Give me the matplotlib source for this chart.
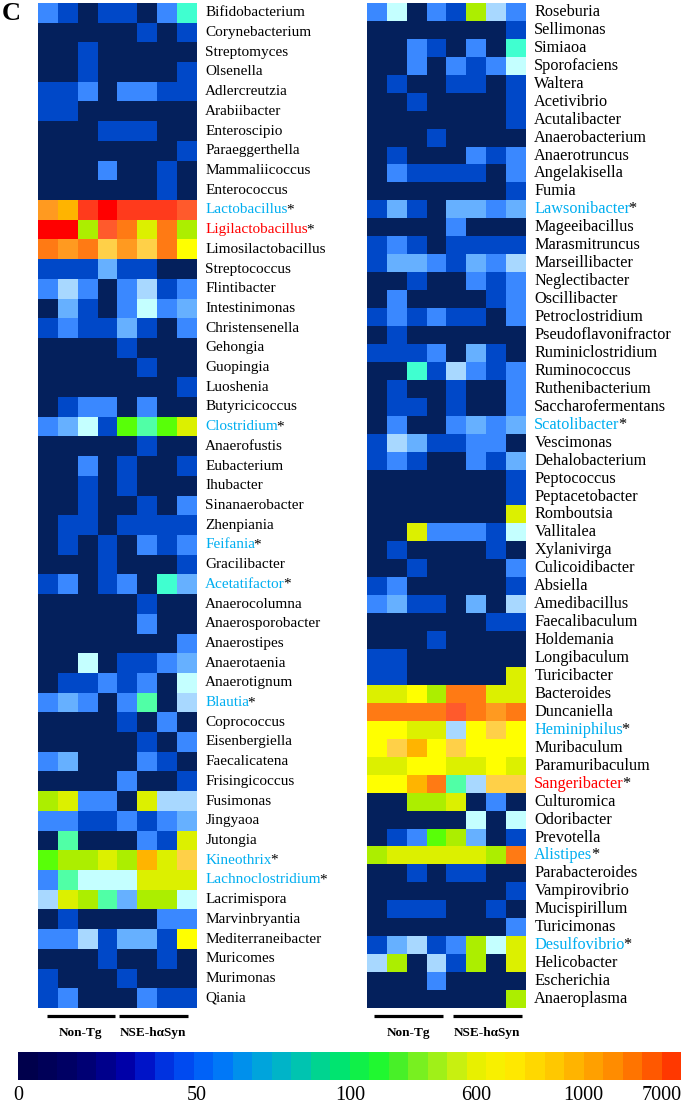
import numpy as np
import matplotlib
matplotlib.use('Agg')
import matplotlib.pyplot as plt
from matplotlib.colors import ListedColormap, BoundaryNorm
from matplotlib.cm import ScalarMappable

plt.rcParams['font.family'] = ['Liberation Serif', 'DejaVu Serif']

# ---------------- data ----------------
left_genera = ['Bifidobacterium', 'Corynebacterium', 'Streptomyces', 'Olsenella', 'Adlercreutzia',
               'Arabiibacter', 'Enteroscipio', 'Paraeggerthella', 'Mammaliicoccus', 'Enterococcus',
               'Lactobacillus', 'Ligilactobacillus', 'Limosilactobacillus', 'Streptococcus', 'Flintibacter',
               'Intestinimonas', 'Christensenella', 'Gehongia', 'Guopingia', 'Luoshenia',
               'Butyricicoccus', 'Clostridium', 'Anaerofustis', 'Eubacterium', 'Ihubacter',
               'Sinanaerobacter', 'Zhenpiania', 'Feifania', 'Gracilibacter', 'Acetatifactor',
               'Anaerocolumna', 'Anaerosporobacter', 'Anaerostipes', 'Anaerotaenia', 'Anaerotignum',
               'Blautia', 'Coprococcus', 'Eisenbergiella', 'Faecalicatena', 'Frisingicoccus',
               'Fusimonas', 'Jingyaoa', 'Jutongia', 'Kineothrix', 'Lachnoclostridium',
               'Lacrimispora', 'Marvinbryantia', 'Mediterraneibacter', 'Muricomes', 'Murimonas',
               'Qiania']

left_values = [
    [25, 10, 0, 10, 10, 0, 25, 85],
    [0, 0, 0, 0, 0, 10, 0, 10],
    [0, 0, 10, 0, 0, 0, 0, 0],
    [0, 0, 10, 0, 0, 0, 0, 10],
    [10, 10, 25, 0, 25, 25, 10, 10],
    [10, 10, 0, 0, 0, 0, 0, 0],
    [0, 0, 0, 10, 10, 10, 0, 0],
    [0, 0, 0, 0, 0, 0, 0, 10],
    [0, 0, 0, 25, 0, 0, 10, 0],
    [0, 0, 0, 0, 0, 0, 10, 0],
    [1000, 850, 4000, 7000, 4000, 4000, 4000, 2500],
    [7000, 7000, 250, 2500, 1500, 400, 1500, 250],
    [1500, 1000, 1500, 700, 1000, 700, 1500, 550],
    [10, 10, 10, 40, 10, 10, 0, 0],
    [25, 55, 25, 0, 25, 55, 10, 25],
    [0, 40, 10, 0, 25, 70, 25, 40],
    [10, 25, 10, 10, 40, 10, 0, 25],
    [0, 0, 0, 0, 10, 0, 0, 0],
    [0, 0, 0, 0, 0, 10, 0, 0],
    [0, 0, 0, 0, 0, 0, 0, 10],
    [0, 10, 25, 25, 0, 25, 0, 0],
    [25, 40, 70, 10, 150, 100, 150, 400],
    [0, 0, 0, 0, 0, 10, 0, 0],
    [0, 0, 25, 0, 10, 0, 0, 10],
    [0, 0, 10, 0, 10, 0, 0, 0],
    [0, 0, 10, 0, 0, 10, 0, 25],
    [0, 10, 10, 0, 10, 10, 10, 10],
    [0, 10, 0, 10, 0, 25, 10, 25],
    [0, 0, 0, 10, 0, 0, 0, 10],
    [10, 25, 0, 10, 25, 0, 85, 40],
    [0, 0, 0, 0, 0, 10, 0, 0],
    [0, 0, 0, 0, 0, 25, 0, 0],
    [0, 0, 0, 0, 0, 0, 0, 25],
    [0, 0, 70, 0, 10, 10, 25, 40],
    [0, 10, 10, 25, 10, 25, 0, 70],
    [25, 40, 25, 0, 25, 100, 0, 55],
    [0, 0, 0, 0, 10, 0, 25, 0],
    [0, 0, 0, 0, 0, 10, 0, 25],
    [25, 40, 0, 0, 0, 25, 10, 0],
    [0, 0, 0, 0, 25, 0, 0, 10],
    [250, 400, 25, 25, 0, 400, 55, 55],
    [25, 25, 10, 10, 25, 10, 25, 40],
    [0, 100, 0, 0, 0, 25, 10, 400],
    [150, 250, 250, 400, 250, 850, 400, 700],
    [25, 100, 70, 70, 70, 400, 400, 400],
    [55, 400, 250, 100, 40, 250, 250, 70],
    [0, 10, 0, 0, 0, 0, 25, 25],
    [25, 25, 55, 10, 40, 40, 10, 550],
    [0, 0, 0, 10, 0, 0, 10, 0],
    [10, 0, 0, 0, 10, 0, 0, 0],
    [10, 25, 0, 0, 0, 25, 10, 10],
]

right_genera = ['Roseburia', 'Sellimonas', 'Simiaoa', 'Sporofaciens', 'Waltera', 'Acetivibrio',
                'Acutalibacter', 'Anaerobacterium', 'Anaerotruncus', 'Angelakisella', 'Fumia',
                'Lawsonibacter', 'Mageeibacillus', 'Marasmitruncus', 'Marseillibacter', 'Neglectibacter',
                'Oscillibacter', 'Petroclostridium', 'Pseudoflavonifractor', 'Ruminiclostridium',
                'Ruminococcus', 'Ruthenibacterium', 'Saccharofermentans', 'Scatolibacter', 'Vescimonas',
                'Dehalobacterium', 'Peptococcus', 'Peptacetobacter', 'Romboutsia', 'Vallitalea',
                'Xylanivirga', 'Culicoidibacter', 'Absiella', 'Amedibacillus', 'Faecalibaculum',
                'Holdemania', 'Longibaculum', 'Turicibacter', 'Bacteroides', 'Duncaniella',
                'Heminiphilus', 'Muribaculum', 'Paramuribaculum', 'Sangeribacter', 'Culturomica',
                'Odoribacter', 'Prevotella', 'Alistipes', 'Parabacteroides', 'Vampirovibrio',
                'Mucispirillum', 'Turicimonas', 'Desulfovibrio', 'Helicobacter', 'Escherichia',
                'Anaeroplasma']

right_values = [
    [25, 70, 0, 25, 10, 250, 55, 25],
    [0, 0, 0, 0, 0, 0, 0, 10],
    [0, 0, 25, 10, 0, 25, 0, 85],
    [0, 0, 25, 0, 25, 10, 25, 70],
    [0, 10, 0, 0, 10, 10, 0, 10],
    [0, 0, 10, 0, 0, 0, 0, 10],
    [0, 0, 0, 0, 0, 0, 0, 10],
    [0, 0, 0, 10, 0, 0, 0, 0],
    [0, 10, 0, 0, 0, 25, 10, 25],
    [0, 25, 10, 10, 10, 10, 0, 25],
    [0, 0, 0, 0, 0, 0, 0, 10],
    [10, 40, 10, 0, 40, 40, 25, 40],
    [0, 0, 0, 0, 25, 0, 0, 0],
    [10, 25, 10, 0, 10, 10, 10, 10],
    [10, 40, 40, 25, 10, 40, 25, 55],
    [0, 0, 10, 0, 0, 25, 10, 25],
    [0, 25, 0, 0, 0, 0, 10, 25],
    [10, 25, 10, 25, 10, 10, 0, 25],
    [0, 10, 0, 0, 0, 0, 0, 0],
    [10, 10, 10, 25, 0, 40, 10, 0],
    [0, 0, 85, 10, 55, 25, 10, 25],
    [0, 10, 0, 0, 10, 0, 0, 25],
    [0, 10, 10, 0, 10, 0, 0, 25],
    [0, 25, 0, 0, 25, 40, 25, 40],
    [10, 55, 40, 10, 10, 25, 25, 0],
    [10, 25, 10, 0, 0, 25, 10, 40],
    [0, 0, 0, 0, 0, 0, 0, 10],
    [0, 0, 0, 0, 0, 0, 0, 10],
    [0, 0, 0, 0, 0, 0, 0, 400],
    [0, 0, 400, 25, 25, 25, 10, 70],
    [0, 10, 0, 0, 0, 0, 10, 0],
    [0, 0, 10, 0, 0, 0, 0, 25],
    [10, 25, 0, 0, 0, 0, 0, 10],
    [25, 40, 10, 10, 0, 40, 0, 55],
    [0, 0, 0, 0, 0, 0, 10, 10],
    [0, 0, 0, 10, 0, 0, 0, 0],
    [10, 10, 0, 0, 0, 0, 0, 0],
    [10, 10, 0, 0, 0, 0, 0, 400],
    [400, 400, 550, 250, 1500, 1500, 400, 400],
    [1500, 1500, 1500, 1500, 2500, 1500, 1000, 1500],
    [550, 550, 400, 400, 55, 550, 700, 550],
    [550, 700, 850, 550, 700, 550, 550, 550],
    [400, 400, 550, 550, 400, 400, 550, 400],
    [550, 550, 850, 1500, 100, 55, 700, 700],
    [0, 0, 250, 250, 400, 0, 25, 0],
    [0, 0, 0, 0, 0, 70, 0, 70],
    [0, 10, 25, 150, 250, 40, 0, 10],
    [250, 400, 400, 400, 400, 400, 250, 1500],
    [0, 0, 10, 0, 10, 10, 0, 0],
    [0, 0, 0, 0, 0, 0, 0, 10],
    [0, 10, 10, 10, 0, 0, 10, 0],
    [0, 0, 0, 0, 0, 0, 0, 25],
    [10, 40, 55, 10, 25, 250, 70, 400],
    [55, 250, 0, 55, 10, 250, 0, 400],
    [0, 0, 0, 25, 0, 0, 0, 0],
    [0, 0, 0, 0, 0, 0, 0, 250],
]

group_names = ['Non-Tg', 'NSE-hαSyn']

blue_genera = ['Lactobacillus', 'Clostridium', 'Feifania', 'Acetatifactor', 'Blautia', 'Kineothrix',
               'Lachnoclostridium', 'Lawsonibacter', 'Scatolibacter', 'Heminiphilus', 'Alistipes',
               'Desulfovibrio']
red_genera = ['Ligilactobacillus', 'Sangeribacter']

cbar_ticks = [0, 50, 100, 600, 1000, 7000]
cbar_tick_slots = [0.1, 9.2, 17.2, 23.5, 29.0, 33.0]   # position of each tick in colour-segment units

# ---------------- colour scales ----------------
heat_levels = [0, 10, 25, 40, 55, 70, 85, 100, 150, 250, 400, 550, 700, 850, 1000, 1500, 2500, 4000, 7000]
heat_colors = ['#04205c', '#0048c8', '#3a88ff', '#66b0ff', '#a8d8ff', '#c4ffff', '#40ffd0', '#50ffa6',
               '#58ff08', '#acee00', '#dcf000', '#ffff00', '#ffd048', '#ffb400', '#ff9a20', '#ff7a14',
               '#ff5a2c', '#ff3a1c', '#ff0000']
lv = np.array(heat_levels, dtype=float)
heat_bounds = np.concatenate([[-1], (lv[:-1] + lv[1:]) / 2, [10000]])
heat_cmap = ListedColormap(heat_colors)
heat_norm = BoundaryNorm(heat_bounds, heat_cmap.N)

cb_colors = ['#00004c', '#000058', '#000064', '#000074', '#00008c', '#0000a8', '#0014c8', '#0032e0',
             '#004af0', '#0062f8', '#0078f8', '#0090ec', '#00a4dc', '#00b4c8', '#00c4b0', '#00d490',
             '#00e470', '#10f048', '#20f830', '#48f028', '#78f020', '#a0f018', '#c8f010', '#e8f000',
             '#f8f000', '#ffe800', '#ffd800', '#ffc800', '#ffb400', '#ffa000', '#ff8c00', '#ff7400',
             '#ff5800', '#ff3800']
n_cb = len(cb_colors)
cb_bounds = np.interp(np.arange(n_cb + 1), [0] + cbar_tick_slots[1:] + [n_cb],
                      [0] + cbar_ticks[1:] + [8000])

# ---------------- figure ----------------
W, H = 685, 1105
fig = plt.figure(figsize=(W / 100, H / 100), dpi=100)


def px_axes(x0, y0, x1, y1):
    return fig.add_axes([x0 / W, 1 - y1 / H, (x1 - x0) / W, (y1 - y0) / H])


panels = [
    dict(genera=left_genera, values=left_values, box=(38, 3, 197, 1008), fs=11.0,
         bars=[(0.45, 3.87), (4.07, 7.54)]),
    dict(genera=right_genera, values=right_values, box=(367, 3, 526, 1008), fs=11.7,
         bars=[(0.35, 3.82), (4.32, 7.79)]),
]

for p in panels:
    ax = px_axes(*p['box'])
    data = np.array(p['values'], dtype=float)
    nrow, ncol = data.shape
    ax.imshow(data, cmap=heat_cmap, norm=heat_norm, aspect='auto', interpolation='nearest',
              extent=(-0.5, ncol - 0.5, nrow - 0.5, -0.5))
    ax.set_xlim(-0.5, ncol - 0.5)
    ax.set_ylim(nrow - 0.5, -0.5)
    ax.set_xticks([])
    ax.set_yticks([])
    for s in ax.spines.values():
        s.set_visible(False)

    for i, name in enumerate(p['genera']):
        color = 'black'
        star = False
        if name in blue_genera:
            color, star = '#00aef0', True
        elif name in red_genera:
            color, star = '#ff0000', True
        t = ax.annotate(name, xy=(1, i), xycoords=('axes fraction', 'data'),
                        xytext=(6, 0), textcoords='offset points',
                        ha='left', va='center', fontsize=p['fs'], color=color)
        if star:
            ax.annotate('*', xy=(1, 0), xycoords=t, xytext=(-1.2, 0), textcoords='offset points',
                        ha='left', va='bottom', fontsize=p['fs'], color='black')

    # group bars and labels below the heat map
    hpx = p['box'][3] - p['box'][1]
    ybar = -8 / hpx
    ylab = -25 / hpx
    for g, (a, b) in enumerate(p['bars']):
        ax.plot([a - 0.5, b - 0.5], [ybar, ybar], color='black', lw=2.3, clip_on=False,
                transform=ax.get_xaxis_transform(), solid_capstyle='butt')
        ax.text((a + b) / 2 - 0.5, ylab, group_names[g], transform=ax.get_xaxis_transform(),
                ha='center', va='center', fontsize=9.5, fontweight='bold')

# panel letter
fig.text(2 / W, 1 - 2 / H, 'C', fontsize=19, fontweight='bold', ha='left', va='top')

# colour bar
cax = px_axes(18, 1052, 681, 1080)
sm = ScalarMappable(norm=BoundaryNorm(cb_bounds, n_cb), cmap=ListedColormap(cb_colors))
cb = fig.colorbar(sm, cax=cax, orientation='horizontal', spacing='uniform', ticks=cbar_ticks)
cb.outline.set_visible(False)
cb.minorticks_off()
cb.ax.tick_params(which='both', length=0, pad=4, labelsize=14.5)
cb.ax.set_xticklabels([str(t) for t in cbar_ticks])

fig.savefig('out.png', dpi=100)
